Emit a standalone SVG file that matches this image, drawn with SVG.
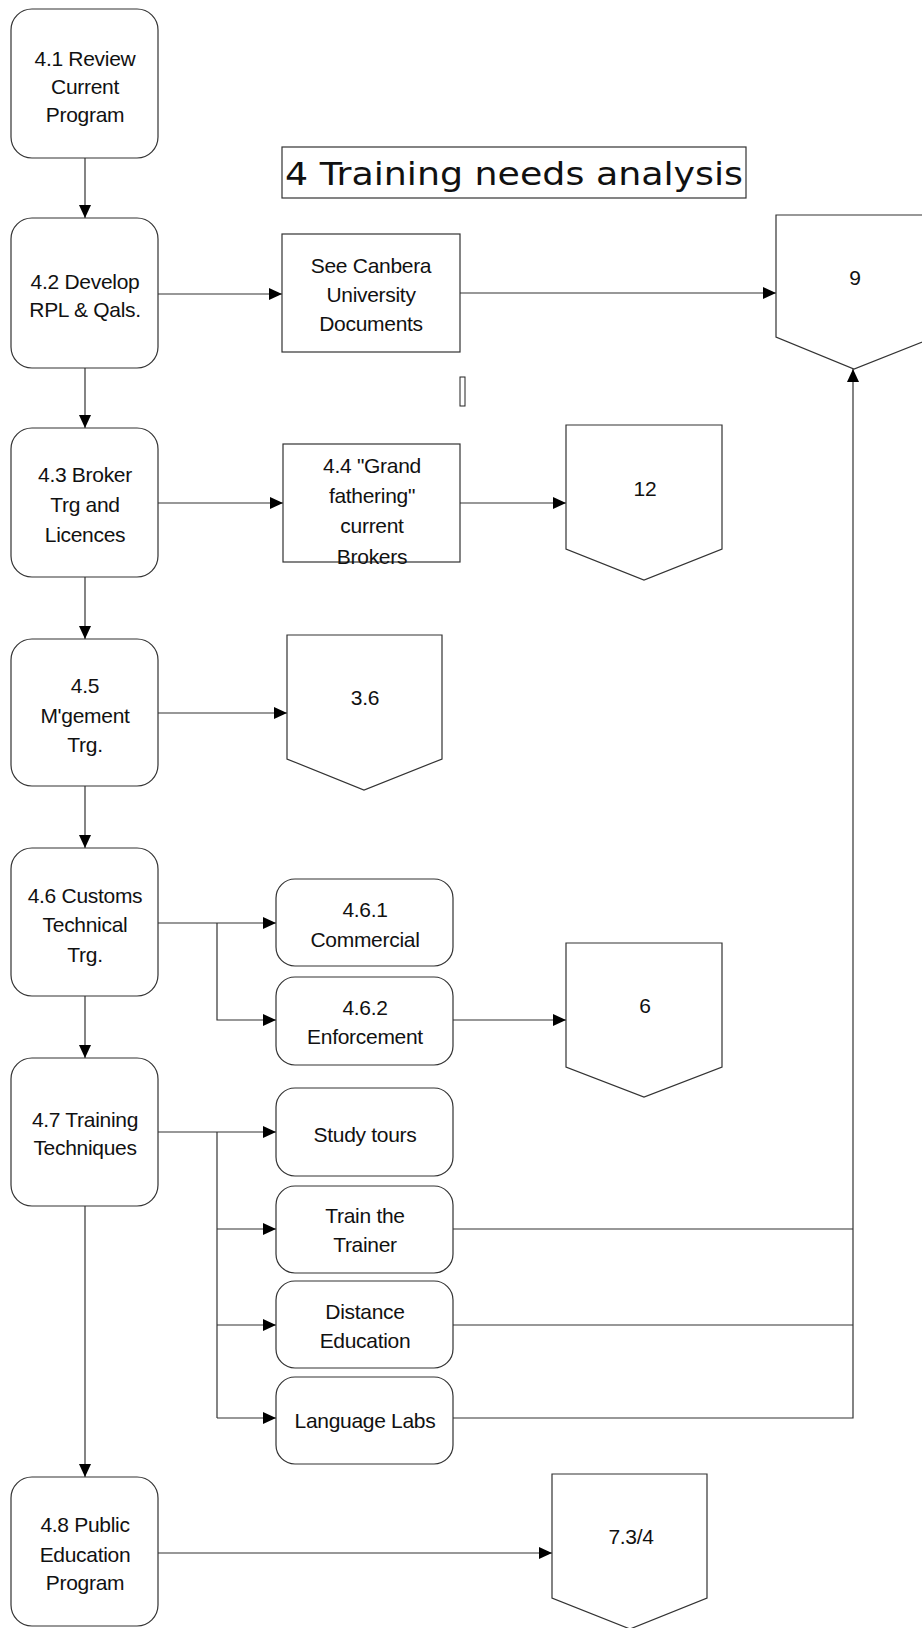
<svg xmlns="http://www.w3.org/2000/svg" width="922" height="1628" viewBox="0 0 922 1628">
  <style>
    .box { fill: #fff; stroke: #333; stroke-width: 1.2; }
    .lbl { font-family: "Liberation Sans", Arial, sans-serif; font-size: 21px; fill: #111; text-anchor: middle; letter-spacing: -0.3px; }
    .title { font-family: "DejaVu Sans", Verdana, sans-serif; font-size: 32px; fill: #111; }
    .conn { fill: none; stroke: #333; stroke-width: 1.2; }
  </style>
  <defs>
    <marker id="arrow" markerUnits="userSpaceOnUse" markerWidth="14" markerHeight="12" refX="13" refY="6" orient="auto">
      <path d="M0,0 L13,6 L0,12 Z" fill="#000"/>
    </marker>
  </defs>
  <rect width="922" height="1628" fill="#fff"/>

  <!-- heading -->
  <g id="heading">
    <rect x="282" y="147" width="464" height="51" fill="#fff" stroke="#333" stroke-width="1.2"/>
    <text class="title" x="285" y="185" textLength="458" lengthAdjust="spacingAndGlyphs">4 Training needs analysis</text>
  </g>

  <!-- stray empty marker box -->
  <rect id="stray-box" x="460" y="377" width="5" height="29" fill="none" stroke="#222" stroke-width="1"/>

  <!-- connectors -->
  <g id="connectors">
    <path class="conn" d="M85,158 V218" marker-end="url(#arrow)"/>
    <path class="conn" d="M85,368 V428" marker-end="url(#arrow)"/>
    <path class="conn" d="M85,577 V639" marker-end="url(#arrow)"/>
    <path class="conn" d="M85,786 V848" marker-end="url(#arrow)"/>
    <path class="conn" d="M85,996 V1058" marker-end="url(#arrow)"/>
    <path class="conn" d="M85,1206 V1477" marker-end="url(#arrow)"/>

    <path class="conn" d="M158,294 H282" marker-end="url(#arrow)"/>
    <path class="conn" d="M460,293 H776" marker-end="url(#arrow)"/>
    <path class="conn" d="M158,503 H283" marker-end="url(#arrow)"/>
    <path class="conn" d="M460,503 H566" marker-end="url(#arrow)"/>
    <path class="conn" d="M158,713 H287" marker-end="url(#arrow)"/>

    <path class="conn" d="M158,923 H276" marker-end="url(#arrow)"/>
    <path class="conn" d="M217,923 V1020 H276" marker-end="url(#arrow)"/>
    <path class="conn" d="M453,1020 H566" marker-end="url(#arrow)"/>

    <path class="conn" d="M158,1132 H276" marker-end="url(#arrow)"/>
    <path class="conn" d="M217,1132 V1418"/>
    <path class="conn" d="M217,1229 H276" marker-end="url(#arrow)"/>
    <path class="conn" d="M217,1325 H276" marker-end="url(#arrow)"/>
    <path class="conn" d="M217,1418 H276" marker-end="url(#arrow)"/>

    <path class="conn" d="M453,1229 H853"/>
    <path class="conn" d="M453,1325 H853"/>
    <path class="conn" d="M453,1418 H853 V369" marker-end="url(#arrow)"/>

    <path class="conn" d="M158,1553 H552" marker-end="url(#arrow)"/>
  </g>

  <!-- main process column -->
  <g id="n41">
    <rect class="box" x="11" y="9" width="147" height="149" rx="21"/>
    <text class="lbl" x="85" y="66">4.1 Review</text>
    <text class="lbl" x="85" y="94">Current</text>
    <text class="lbl" x="85" y="122">Program</text>
  </g>
  <g id="n42">
    <rect class="box" x="11" y="218" width="147" height="150" rx="21"/>
    <text class="lbl" x="85" y="289">4.2 Develop</text>
    <text class="lbl" x="85" y="317">RPL &amp; Qals.</text>
  </g>
  <g id="n43">
    <rect class="box" x="11" y="428" width="147" height="149" rx="21"/>
    <text class="lbl" x="85" y="482">4.3 Broker</text>
    <text class="lbl" x="85" y="512">Trg and</text>
    <text class="lbl" x="85" y="542">Licences</text>
  </g>
  <g id="n45">
    <rect class="box" x="11" y="639" width="147" height="147" rx="21"/>
    <text class="lbl" x="85" y="693">4.5</text>
    <text class="lbl" x="85" y="723">M'gement</text>
    <text class="lbl" x="85" y="752">Trg.</text>
  </g>
  <g id="n46">
    <rect class="box" x="11" y="848" width="147" height="148" rx="21"/>
    <text class="lbl" x="85" y="903">4.6 Customs</text>
    <text class="lbl" x="85" y="932">Technical</text>
    <text class="lbl" x="85" y="962">Trg.</text>
  </g>
  <g id="n47">
    <rect class="box" x="11" y="1058" width="147" height="148" rx="21"/>
    <text class="lbl" x="85" y="1127">4.7 Training</text>
    <text class="lbl" x="85" y="1155">Techniques</text>
  </g>
  <g id="n48">
    <rect class="box" x="11" y="1477" width="147" height="149" rx="21"/>
    <text class="lbl" x="85" y="1532">4.8 Public</text>
    <text class="lbl" x="85" y="1562">Education</text>
    <text class="lbl" x="85" y="1590">Program</text>
  </g>

  <!-- side documents -->
  <g id="canberra">
    <rect class="box" x="282" y="234" width="178" height="118"/>
    <text class="lbl" x="371" y="273">See Canbera</text>
    <text class="lbl" x="371" y="302">University</text>
    <text class="lbl" x="371" y="331">Documents</text>
  </g>
  <g id="n44">
    <rect class="box" x="283" y="444" width="177" height="118"/>
    <text class="lbl" x="372" y="473">4.4 "Grand</text>
    <text class="lbl" x="372" y="503">fathering"</text>
    <text class="lbl" x="372" y="533">current</text>
    <text class="lbl" x="372" y="564">Brokers</text>
  </g>

  <!-- sub-processes -->
  <g id="n461">
    <rect class="box" x="276" y="879" width="177" height="87" rx="19"/>
    <text class="lbl" x="365" y="917">4.6.1</text>
    <text class="lbl" x="365" y="947">Commercial</text>
  </g>
  <g id="n462">
    <rect class="box" x="276" y="977" width="177" height="88" rx="19"/>
    <text class="lbl" x="365" y="1015">4.6.2</text>
    <text class="lbl" x="365" y="1044">Enforcement</text>
  </g>
  <g id="study">
    <rect class="box" x="276" y="1088" width="177" height="88" rx="19"/>
    <text class="lbl" x="365" y="1142">Study tours</text>
  </g>
  <g id="trainer">
    <rect class="box" x="276" y="1186" width="177" height="87" rx="19"/>
    <text class="lbl" x="365" y="1223">Train the</text>
    <text class="lbl" x="365" y="1252">Trainer</text>
  </g>
  <g id="distance">
    <rect class="box" x="276" y="1281" width="177" height="87" rx="19"/>
    <text class="lbl" x="365" y="1319">Distance</text>
    <text class="lbl" x="365" y="1348">Education</text>
  </g>
  <g id="language">
    <rect class="box" x="276" y="1377" width="177" height="87" rx="19"/>
    <text class="lbl" x="365" y="1428">Language Labs</text>
  </g>

  <!-- off-page references -->
  <g id="ref9">
    <path class="box" d="M776,215 H935 V337 L854,369 L776,337 Z"/>
    <text class="lbl" x="855" y="285">9</text>
  </g>
  <g id="ref12">
    <path class="box" d="M566,425 H722 V549 L644,580 L566,549 Z"/>
    <text class="lbl" x="645" y="496">12</text>
  </g>
  <g id="ref36">
    <path class="box" d="M287,635 H442 V759 L364,790 L287,759 Z"/>
    <text class="lbl" x="365" y="705">3.6</text>
  </g>
  <g id="ref6">
    <path class="box" d="M566,943 H722 V1067 L644,1097 L566,1067 Z"/>
    <text class="lbl" x="645" y="1013">6</text>
  </g>
  <g id="ref734">
    <path class="box" d="M552,1474 H707 V1598 L630,1629 L552,1598 Z"/>
    <text class="lbl" x="631" y="1544">7.3/4</text>
  </g>
</svg>
